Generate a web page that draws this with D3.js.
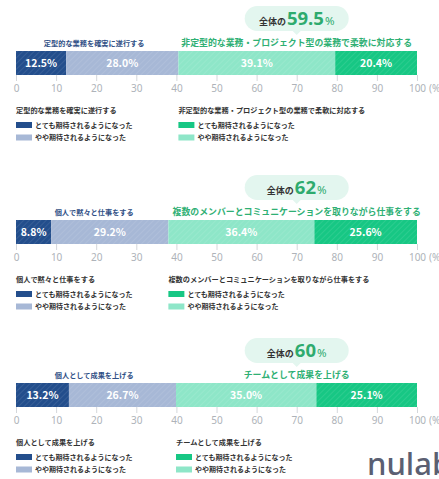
<!DOCTYPE html>
<html>
<head>
<meta charset="utf-8">
<script src="https://cdn.jsdelivr.net/npm/d3@7"></script>
<style>
  html, body { margin: 0; padding: 0; background: #fff; }
  svg { display: block; font-family: "Noto Sans CJK JP", "Noto Sans", sans-serif; }
</style>
</head>
<body>
<div id="chart"></div>
<script>
// data
const individualLabels = ["定型的な業務を確実に遂行する", "個人で黙々と仕事をする", "個人として成果を上げる"];
const teamLabels = ["非定型的な業務・プロジェクト型の業務で柔軟に対応する", "複数のメンバーとコミュニケーションを取りながら仕事をする", "チームとして成果を上げる"];
const totals = ["59.5", "62", "60"];
const seriesNames = ["とても期待されるようになった", "やや期待されるようになった"];
// order within each bar: individual strong, individual somewhat, team somewhat, team strong
const indivStrong = [12.5, 8.8, 13.2];
const indivSome = [28.0, 29.2, 26.7];
const teamSome = [39.1, 36.4, 35.0];
const teamStrong = [20.4, 25.6, 25.1];
const ticks = [0, 10, 20, 30, 40, 50, 60, 70, 80, 90, 100];

const colors = ["#234e8c", "#a7b8d6", "#8ee6c8", "#17c784"];
const width = 439, height = 479;
const barTops = [51, 220, 383];
const barH = 24;

const svg = d3.select("#chart").append("svg")
    .attr("width", width)
    .attr("height", height);

const defs = svg.append("defs");
const hatch = defs.append("pattern")
    .attr("id", "hatch")
    .attr("patternUnits", "userSpaceOnUse")
    .attr("width", 4)
    .attr("height", 4)
    .attr("patternTransform", "rotate(45)");
hatch.append("line")
    .attr("x1", 0).attr("y1", 0).attr("x2", 0).attr("y2", 4)
    .attr("stroke", "#fff")
    .attr("stroke-opacity", 0.18)
    .attr("stroke-width", 1);

const x = d3.scaleLinear().domain([0, 100]).range([16, 417]);

barTops.forEach(function (top, i) {
    const vals = [indivStrong[i], indivSome[i], teamSome[i], teamStrong[i]];
    let acc = 0;
    const segs = vals.map(function (v, k) {
        const s = { start: acc, end: acc + v, value: v, color: colors[k] };
        acc += v;
        return s;
    });

    const g = svg.append("g");

    // bars
    g.selectAll(".seg")
        .data(segs)
        .enter().append("rect")
        .attr("x", d => x(d.start))
        .attr("y", top)
        .attr("width", d => x(d.end) - x(d.start))
        .attr("height", barH)
        .attr("fill", d => d.color);

    g.selectAll(".hatch")
        .data(segs)
        .enter().append("rect")
        .attr("x", d => x(d.start))
        .attr("y", top)
        .attr("width", d => x(d.end) - x(d.start))
        .attr("height", barH)
        .attr("fill", "url(#hatch)");

    g.selectAll(".val")
        .data(segs)
        .enter().append("text")
        .attr("x", d => (x(d.start) + x(d.end)) / 2)
        .attr("y", top + barH / 2 + 4)
        .attr("text-anchor", "middle")
        .attr("fill", "#fff")
        .attr("font-size", 10.5)
        .attr("font-weight", 700)
        .text(d => d.value.toFixed(1) + "%");

    // axis
    const axis = g.append("g")
        .attr("transform", "translate(0," + (top + barH) + ")")
        .call(d3.axisBottom(x).tickValues(ticks).tickSize(6).tickPadding(4));
    axis.select(".domain").remove();
    axis.selectAll(".tick line").attr("stroke", "#d4d7db");
    axis.selectAll(".tick text")
        .attr("fill", "#aeb3b9")
        .attr("font-size", 10)
        .attr("font-family", "'Noto Sans', sans-serif");
    g.append("text")
        .attr("x", 429)
        .attr("y", top + barH + 17)
        .attr("fill", "#aeb3b9")
        .attr("font-size", 10)
        .attr("font-family", "'Noto Sans', sans-serif")
        .text("(%)");

    // group labels above bar
    g.append("text")
        .attr("x", x(19.5))
        .attr("y", top - 5)
        .attr("text-anchor", "middle")
        .attr("fill", "#2f4f85")
        .attr("font-size", 7.2)
        .attr("font-weight", 700)
        .text(individualLabels[i]);

    g.append("text")
        .attr("x", x(70))
        .attr("y", top - 5)
        .attr("text-anchor", "middle")
        .attr("fill", "#2fb074")
        .attr("font-size", 8.9)
        .attr("font-weight", 700)
        .text(teamLabels[i]);

    // badge
    const cx = x(70);
    const pillTop = top - 45;
    const pillH = 25;
    const pillW = 104;
    g.append("rect")
        .attr("x", cx - pillW / 2)
        .attr("y", pillTop)
        .attr("width", pillW)
        .attr("height", pillH)
        .attr("rx", 12.5)
        .attr("fill", "#e3f6ef");
    g.append("path")
        .attr("d", `M${cx - 4},${pillTop + pillH} L${cx},${pillTop + pillH + 4} L${cx + 4},${pillTop + pillH} Z`)
        .attr("fill", "#e3f6ef");
    const bt = g.append("text")
        .attr("x", cx)
        .attr("y", pillTop + 19)
        .attr("text-anchor", "middle");
    bt.append("tspan")
        .attr("fill", "#333")
        .attr("font-size", 9)
        .attr("font-weight", 700)
        .text("全体の");
    bt.append("tspan")
        .attr("fill", "#2eab6e")
        .attr("font-size", 18.5)
        .attr("font-weight", 700)
        .attr("font-family", "'Noto Sans', sans-serif")
        .attr("dx", 1)
        .text(totals[i]);
    bt.append("tspan")
        .attr("fill", "#2eab6e")
        .attr("font-size", 11.5)
        .attr("font-family", "'Noto Sans', sans-serif")
        .attr("dx", 1)
        .text("%");

    // legends
    const legendCols = [
        { x: x(0), title: individualLabels[i], colors: [colors[0], colors[1]] },
        { x: x(indivStrong[i] + indivSome[i]), title: teamLabels[i], colors: [colors[3], colors[2]] }
    ];
    legendCols.forEach(function (col) {
        const lg = g.append("g").attr("transform", "translate(" + col.x + "," + top + ")");
        lg.append("text")
            .attr("x", 0)
            .attr("y", 62)
            .attr("fill", "#333")
            .attr("font-size", 7.2)
            .attr("font-weight", 700)
            .text(col.title);
        seriesNames.forEach(function (name, k) {
            const cy = 74 + k * 12.5;
            lg.append("rect")
                .attr("x", 0)
                .attr("y", cy - 3)
                .attr("width", 16)
                .attr("height", 6)
                .attr("fill", col.colors[k]);
            lg.append("text")
                .attr("x", 19)
                .attr("y", cy + 2.6)
                .attr("fill", "#333")
                .attr("font-size", 7)
                .attr("font-weight", 700)
                .text(name);
        });
    });
});

// logo
svg.append("text")
    .attr("x", 367)
    .attr("y", 475)
    .attr("fill", "#5b5f72")
    .attr("font-size", 31)
    .attr("font-weight", 500)
    .attr("font-family", "'Noto Sans', sans-serif")
    .text("nulab");
</script>
</body>
</html>
